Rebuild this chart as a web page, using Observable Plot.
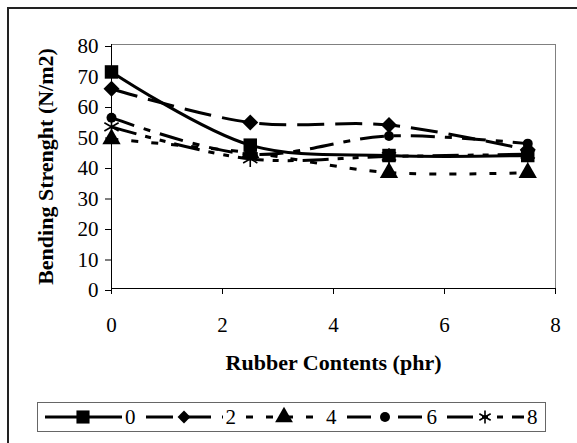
<!DOCTYPE html>
<html>
<head>
<meta charset="utf-8">
<script src="https://cdn.jsdelivr.net/npm/d3@7"></script>
<script src="https://cdn.jsdelivr.net/npm/@observablehq/plot@0.6"></script>
<style>
  html, body { margin: 0; padding: 0; background: #fff; }
  body { position: relative; width: 577px; height: 443px; overflow: hidden; font-family: "Liberation Serif", "Times New Roman", serif; }
  #outer { position: absolute; left: 7px; top: 7px; width: 600px; height: 500px; border: 2px solid #222; box-sizing: border-box; }
  #chart { position: absolute; left: 0; top: 0; }
  #legend { position: absolute; left: 37px; top: 402px; width: 509px; height: 30px; border: 1px solid #666; box-sizing: border-box; background: #fff; }
  .lg-item { position: absolute; top: 0; height: 28px; }
  .lg-label { position: absolute; top: 1px; font-size: 21px; line-height: 26px; color: #000; }
</style>
</head>
<body>
<div id="outer"></div>
<div id="chart"></div>
<div id="legend"></div>
<script>
// ---- data ----
const xValues = [0, 2.5, 5, 7.5];
const seriesNames = ["0", "2", "4", "6", "8"];
const s0 = [71, 47, 43.6, 43.6];
const s2 = [65.5, 54.4, 53.6, 45.5];
const s4 = [49, 44.5, 38, 38];
const s6 = [56, 44, 50, 47.5];
const s8 = [53, 42.5, 43.3, 44];
const xTicks = [0, 2, 4, 6, 8];
const yTicks = [0, 10, 20, 30, 40, 50, 60, 70, 80];
const xTitle = "Rubber Contents (phr)";
const yTitle = "Bending Strenght (N/m2)";

// ---- styles ----
const seriesValues = [s0, s2, s4, s6, s8];
const styles = [
  {dash: null, symbol: "square", r: 7.6, filled: true},
  {dash: "27,11", symbol: "diamond2", r: 7.2, filled: true},
  {dash: "7,13", symbol: "triangle", r: 6.8, filled: true},
  {dash: "24,10,7,10", symbol: "circle", r: 5, filled: true},
  {dash: "26,9,6,9,6,9", symbol: "asterisk", r: 7.8, filled: false}
];

const marks = [
  Plot.frame({stroke: "#808080"}),
  Plot.axisX(xTicks, {tickSize: 6, tickPadding: 23, label: null, fontSize: 21}),
  Plot.axisY(yTicks, {tickSize: 6, tickPadding: 7, label: null, fontSize: 21, dy: 2}),
  Plot.ruleX([0], {stroke: "#000"}),
  Plot.ruleY([0], {stroke: "#000"}),
  Plot.text([yTitle], {frameAnchor: "left", dx: -66, rotate: -90, text: d => d, fontWeight: "bold", fontSize: 22, textAnchor: "middle", lineAnchor: "middle"}),
  Plot.text([xTitle], {frameAnchor: "bottom", dy: 74, text: d => d, fontWeight: "bold", fontSize: 22, textAnchor: "middle", lineAnchor: "middle"})
];

seriesNames.forEach((name, i) => {
  const rows = xValues.map((x, j) => ({x, y: seriesValues[i][j], s: name}));
  const st = styles[i];
  marks.push(Plot.line(rows, {x: "x", y: "y", stroke: "#000", strokeWidth: 3, curve: "catmull-rom", strokeDasharray: st.dash || undefined, strokeLinecap: "butt"}));
  marks.push(Plot.dot(rows, {x: "x", y: "y", symbol: () => st.symbol, r: st.r,
    fill: st.filled ? "#000" : "none", stroke: st.filled ? "none" : "#000", strokeWidth: st.filled ? 0 : 1.6}));
});

const chart = Plot.plot({
  width: 577,
  height: 400,
  marginLeft: 111,
  marginRight: 22,
  marginTop: 44,
  marginBottom: 112,
  style: {fontFamily: "Liberation Serif", fontSize: "21px", background: "transparent", color: "#000"},
  x: {domain: [0, 8]},
  y: {domain: [0, 80]},
  symbol: {type: "identity"},
  marks
});
document.getElementById("chart").appendChild(chart);

// ---- legend ----
const legend = document.getElementById("legend");
const symMap = {square: d3.symbolSquare, diamond2: d3.symbolDiamond2, triangle: d3.symbolTriangle, circle: d3.symbolCircle, asterisk: d3.symbolAsterisk};
const legendR = [7.4, 5.8, 6.6, 5, 6.2];
seriesNames.forEach((name, i) => {
  const st = styles[i];
  const left = 7 + 100.5 * i;
  const item = document.createElement("div");
  item.className = "lg-item";
  item.style.left = left + "px";
  const svg = d3.create("svg").attr("width", 77).attr("height", 28);
  svg.append("line").attr("x1", 0).attr("x2", 77).attr("y1", 14).attr("y2", 14)
    .attr("stroke", "#000").attr("stroke-width", 3)
    .attr("stroke-dasharray", st.dash || null);
  const size = Math.PI * legendR[i] * legendR[i];
  svg.append("path").attr("transform", "translate(38,14)")
    .attr("d", d3.symbol(symMap[st.symbol], size)())
    .attr("fill", st.filled ? "#000" : "none")
    .attr("stroke", st.filled ? "none" : "#000")
    .attr("stroke-width", 1.6);
  item.appendChild(svg.node());
  const lab = document.createElement("span");
  lab.className = "lg-label";
  lab.style.left = "80px";
  lab.textContent = name;
  item.appendChild(lab);
  legend.appendChild(item);
});
</script>
</body>
</html>
